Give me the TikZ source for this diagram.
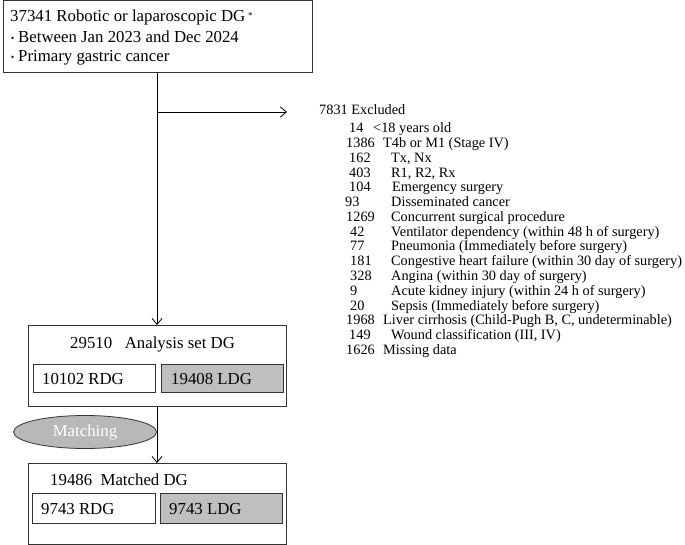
\documentclass[tikz,border=0pt]{standalone}
\usepackage{fontspec}
\setmainfont{Liberation Serif}
\newfontfamily\cjk{Noto Sans CJK JP}
\usetikzlibrary{shapes.geometric,arrows.meta}
\begin{document}
\begin{tikzpicture}[x=1pt,y=-1pt,
  box/.style={draw=black!80,line width=0.8pt,inner sep=0pt},
  big/.style={font=\fontsize{16.8}{19}\selectfont,anchor=base west,inner sep=0pt},
  li/.style={font=\fontsize{14.3}{15}\selectfont,anchor=base west,inner sep=0pt},
  arr/.style={-{Straight Barb[length=6pt,width=10pt]},line width=0.8pt}]
\useasboundingbox (0,0) rectangle (685,545);
% top box
\node[box,minimum width=309,minimum height=72,anchor=north west] (top) at (3,0) {};
\node[big] (t1) at (10,22) {37341 Robotic or laparoscopic DG\,\raisebox{0.5ex}{\fontsize{9}{9}\selectfont *}};
\node[big] (t2) at (7,43) {{\cjk\fontsize{11}{11}\selectfont ・}Between Jan 2023 and Dec 2024};
\node[big] (t3) at (7,62) {{\cjk\fontsize{11}{11}\selectfont ・}Primary gastric cancer};
% analysis box
\node[box,minimum width=258,minimum height=81,anchor=north west] (ana) at (28,325) {};
\node[big] (at) at (70,348) {29510\ \ \ Analysis set DG};
\node[box,minimum width=122,minimum height=28,anchor=north west] (ar) at (33,364) {};
\node[big] at (42,384) {10102 RDG};
\node[box,fill=black!25,minimum width=122,minimum height=28,anchor=north west] (al) at (161,364) {};
\node[big] at (171,384) {19408 LDG};
% matching
\node[draw=black!80,line width=0.8pt,fill=black!28,ellipse,minimum width=143,minimum height=33,text=white,font=\fontsize{16.8}{19}\selectfont] (mat) at (85,432) {Matching};
% matched box
\node[box,minimum width=258,minimum height=81,anchor=north west] (mb) at (28,463) {};
\node[big] at (50,485) {19486\ \ Matched DG};
\node[box,minimum width=123,minimum height=30,anchor=north west] (mr) at (32,493) {};
\node[big] at (41,514) {9743 RDG};
\node[box,fill=black!25,minimum width=122,minimum height=30,anchor=north west] (ml) at (160,493) {};
\node[big] at (169,514) {9743 LDG};
% connectors
\coordinate (j) at (157,112);
\coordinate (ex) at (287,112);
\draw[line width=0.8pt] (top.south -| j) -- (j);
\draw[arr] (j) -- (ana.north -| j);
\draw[arr] (j) -- (ex);
\draw[arr] (ana.south -| j) -- (mb.north -| j);
% excluded list
\node[li] at (319,115) {7831 Excluded};
\foreach \n/\xn/\t/\xt [count=\i from 0] in {
 14/349/{<18 years old}/373,
 1386/346/{T4b or M1 (Stage IV)}/383,
 162/349/{Tx, Nx}/391,
 403/349/{R1, R2, Rx}/391,
 104/349/{Emergency surgery}/392,
 93/345/{Disseminated cancer}/391,
 1269/346/{Concurrent surgical procedure}/391,
 42/350/{Ventilator dependency (within 48 h of surgery)}/391,
 77/350/{Pneumonia (Immediately before surgery)}/391,
 181/350/{Congestive heart failure (within 30 day of surgery)}/391,
 328/350/{Angina (within 30 day of surgery)}/391,
 9/350/{Acute kidney injury (within 24 h of surgery)}/391,
 20/350/{Sepsis (Immediately before surgery)}/391,
 1968/346/{Liver cirrhosis (Child-Pugh B, C, undeterminable)}/383,
 149/349/{Wound classification (III, IV)}/391,
 1626/346/{Missing data}/383}
{
 \node[li] (n\i) at (\xn,{133+14.75*\i}) {\n};
 \node[li] (l\i) at (\xt,{133+14.75*\i}) {\t};
}
\end{tikzpicture}
\end{document}
